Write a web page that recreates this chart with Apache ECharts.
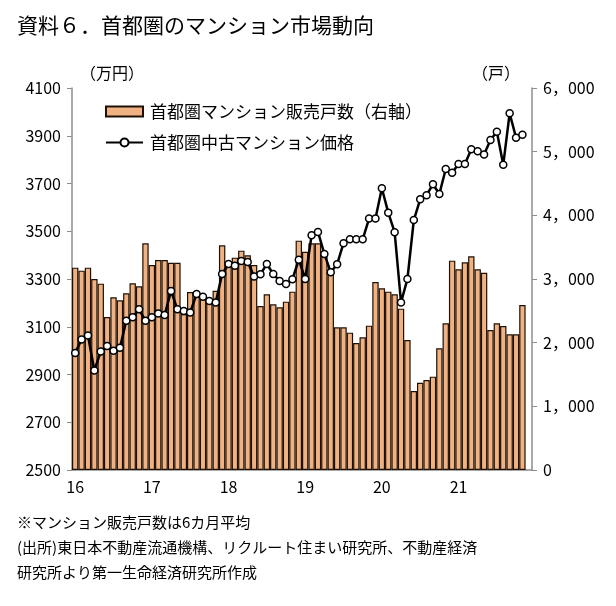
<!DOCTYPE html>
<html>
<head>
<meta charset="utf-8">
<script src="https://cdn.jsdelivr.net/npm/echarts@6/dist/echarts.min.js"></script>
<style>
html,body{margin:0;padding:0;background:#fff;}
#c{width:616px;height:606px;}
</style>
</head>
<body>
<div id="c"></div>
<script>
// ---- data ----
var years = ['16','17','18','19','20','21'];
var barName = '首都圏マンション販売戸数（右軸）';
var lineName = '首都圏中古マンション価格';
// monthly, Jan 2016 .. Nov 2021 (Dec 2021 empty)
var salesUnits = [
  3178,3131,3178,3000,2927,2403,2712,2665,2775,2932,2885,3560,
  3220,3298,3298,3256,3256,2450,2796,2740,2696,2670,2816,3529,
  3256,3335,3445,3372,3220,2576,2759,2602,2555,2644,2801,3602,
  3429,3560,3560,3403,3115,2241,2241,2157,1995,2084,2267,2953,
  2853,2801,2759,2534,2042,1241,1371,1414,1466,1911,2304,3288,
  3152,3262,3356,3152,3099,2199,2304,2262,2131,2131,2592,null
];
var usedPrice = [
  2990,3047,3063,2917,2996,3019,3000,3012,3125,3140,3173,3125,
  3140,3156,3149,3250,3173,3166,3160,3237,3226,3208,3202,3321,
  3363,3356,3375,3371,3310,3320,3363,3321,3292,3279,3299,3381,
  3300,3483,3497,3405,3328,3362,3450,3466,3466,3466,3553,3553,
  3680,3578,3496,3202,3300,3547,3634,3651,3697,3656,3761,3745,
  3782,3782,3843,3835,3821,3882,3917,3779,3994,3892,3904,null
];
var titleText = '資料６．首都圏のマンション市場動向';
var noteLines = [
  '※マンション販売戸数は6カ月平均',
  '(出所)東日本不動産流通機構、リクルート住まい研究所、不動産経済',
  '研究所より第一生命経済研究所作成'
];

var categories = [];
years.forEach(function(y){
  for (var m = 1; m <= 12; m++) categories.push(m === 1 ? y : y + '-' + m);
});

var FONT = '"Noto Sans CJK JP", "Noto Sans", sans-serif';
var chart = echarts.init(document.getElementById('c'), null, {renderer:'canvas'});
var axisGray = '#8c8c8c';

chart.setOption({
  backgroundColor: '#fff',
  animation: false,
  textStyle: {fontFamily: FONT, color: '#000'},
  title: {
    text: titleText, left: 17, top: 15, padding: 0,
    textStyle: {fontFamily: FONT, fontSize: 21, fontWeight: 'normal', color: '#000'}
  },
  legend: {
    orient: 'vertical', left: 100, top: 98, itemGap: 14,
    itemWidth: 37, itemHeight: 10,
    textStyle: {fontFamily: FONT, fontSize: 17, color: '#000', padding: [0,0,0,2]},
    data: [{name: barName, icon: 'rect'}, {name: lineName}]
  },
  grid: {left: 72, right: 84, top: 88, bottom: 136},
  xAxis: {
    type: 'category', data: categories, boundaryGap: true,
    axisLine: {lineStyle: {color: axisGray, width: 1.5}},
    axisTick: {interval: 0, length: 5, lineStyle: {color: axisGray}},
    axisLabel: {
      interval: 11, margin: 9, fontSize: 16, color: '#000', fontFamily: FONT,
      formatter: function(v){ return v.indexOf('-') >= 0 ? '' : v; }
    },
    splitLine: {show: false}
  },
  yAxis: [
    {
      type: 'value', min: 2500, max: 4100, interval: 200, position: 'left',
      axisLine: {show: true, lineStyle: {color: axisGray, width: 1.5}},
      axisTick: {show: true, length: 5, lineStyle: {color: axisGray}},
      axisLabel: {fontSize: 16, color: '#000', margin: 11, fontFamily: FONT,
        formatter: function(v){ return String(v); }},
      splitLine: {show: false}
    },
    {
      type: 'value', min: 0, max: 6000, interval: 1000, position: 'right',
      axisLine: {show: true, lineStyle: {color: axisGray, width: 1.5}},
      axisTick: {show: true, length: 5, lineStyle: {color: axisGray}},
      axisLabel: {
        fontSize: 16, color: '#000', margin: 11, fontFamily: FONT,
        formatter: function(v){
          if (v < 1000) return String(v);
          var s = String(v);
          return s.slice(0, s.length - 3) + '，' + s.slice(-3);
        }
      },
      splitLine: {show: false}
    }
  ],
  series: [
    {
      name: barName, type: 'bar', yAxisIndex: 1, data: salesUnits,
      barWidth: '100%', barGap: '0%',
      itemStyle: {color: '#F1B283', borderColor: '#1e1005', borderWidth: 1.2}
    },
    {
      name: lineName, type: 'line', yAxisIndex: 0, data: usedPrice,
      symbol: 'circle', symbolSize: 7, showAllSymbol: true,
      lineStyle: {color: '#000', width: 2.5},
      itemStyle: {color: '#fff', borderColor: '#000', borderWidth: 1.5},
      z: 5
    }
  ],
  graphic: [
    {type: 'text', left: 80, top: 65, style: {text: '（万円）', font: '16px ' + FONT, fill: '#000'}},
    {type: 'text', left: 472, top: 65, style: {text: '（戸）', font: '16px ' + FONT, fill: '#000'}},
    {type: 'text', left: 17, top: 515, style: {text: noteLines[0], font: '15px ' + FONT, fill: '#000'}},
    {type: 'text', left: 17, top: 540, style: {text: noteLines[1], font: '15px ' + FONT, fill: '#000'}},
    {type: 'text', left: 17, top: 565, style: {text: noteLines[2], font: '15px ' + FONT, fill: '#000'}}
  ]
});
</script>
</body>
</html>
